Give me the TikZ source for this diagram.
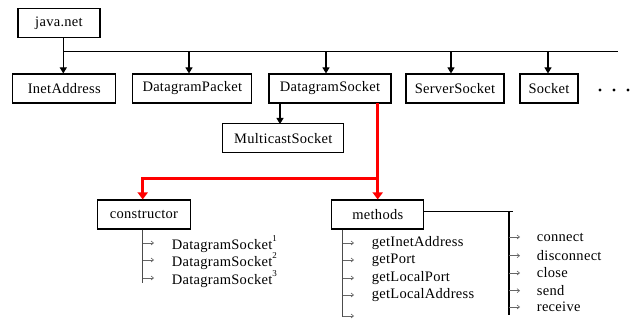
\documentclass[tikz,border=0pt]{standalone}
\usepackage{fontspec}
\setmainfont[LetterSpace=2]{Liberation Serif}
\usetikzlibrary{arrows.meta}
\newcommand{\supnum}[1]{\raisebox{1.3ex}{\fontsize{9}{9}\selectfont #1}}
\begin{document}
\begin{tikzpicture}[x=1pt,y=-1pt,
  font=\fontsize{14.5}{16}\selectfont,
  box/.style={draw, line width=1.1pt, inner sep=0pt, minimum height=29pt},
  conn/.style={line width=1.1pt},
  tip/.style={-{Triangle[length=6pt,width=7pt]}},
  redline/.style={draw=red, line width=2.6pt},
  redtip/.style={-{Triangle[length=7pt,width=10pt]}},
  gline/.style={draw=black!70, line width=1.5pt},
  iarr/.style={draw=black!60, line width=0.6pt, -{Straight Barb[length=2.5pt,width=4pt]}},
  item/.style={anchor=west, inner sep=0pt}
]
\useasboundingbox (0,0) rectangle (634,320);

% boxes
\node[box, minimum width=82pt]  (java)  at (59,23)      {java.net};
\node[box, minimum width=103pt] (inet)  at (64.3,88.5)  {InetAddress};
\node[box, minimum width=119pt] (dpack) at (192.3,88.5) {DatagramPacket};
\node[box, minimum width=122pt] (dsock) at (330,88.5)   {DatagramSocket};
\node[box, minimum width=98pt]  (ssock) at (455,88.5)   {ServerSocket};
\node[box, minimum width=58pt]  (sock)  at (549,88.5)   {Socket};
\node[box, minimum width=121pt] (msock) at (283.3,138.3){MulticastSocket};
\node[box, minimum width=93pt]  (cons)  at (144,214.5)  {constructor};
\node[box, minimum width=92pt]  (meth)  at (377.8,214.5){methods};

% dots
\fill (600,90) circle (1.7pt);
\fill (614,90) circle (1.7pt);
\fill (628,90) circle (1.7pt);

% bus
\coordinate (busL) at (63.3,51.7);
\coordinate (busR) at (618,51.7);
\draw[conn] ([xshift=4.3pt]java.south) -- (busL) -- (busR);
\draw[conn,tip] (busL) -- (busL |- inet.north);
\draw[conn,tip] ([xshift=-3.3pt]dpack.north |- busL) -- ([xshift=-3.3pt]dpack.north);
\draw[conn,tip] ([xshift=-4pt]dsock.north |- busL) -- ([xshift=-4pt]dsock.north);
\draw[conn,tip] ([xshift=-4pt]ssock.north |- busL) -- ([xshift=-4pt]ssock.north);
\draw[conn,tip] ([xshift=-1pt]sock.north |- busL) -- ([xshift=-1pt]sock.north);

% multicast
\coordinate (mtop) at (280,124);
\draw[conn,tip] (mtop |- dsock.south) -- (mtop);

% red connectors
\coordinate (rstart) at (377.7,103);
\coordinate (rjoin) at (377.7,178.3);
\draw[redline,redtip] (rstart) -- (rjoin) -| ([xshift=-1.3pt]cons.north);
\draw[redline,redtip] (rjoin) -- (rjoin |- meth.north);

% methods right branch
\coordinate (mr) at (513,211.7);
\coordinate (mrv) at (509,211.7);
\coordinate (mrb) at (509,315);
\draw[conn] (meth.east |- mr) -- (mr);
\draw[conn] (mrv) -- (mrb);

% gray list lines
\coordinate (cl) at (142.7,282.7);
\draw[gline] (cl |- cons.south) -- (cl);
\coordinate (ml) at (342.7,316.7);
\draw[gline] (ml |- meth.south) -- (ml);

% constructor items
\foreach \yy in {243,260,278} \draw[iarr] (143,\yy) -- (154,\yy);
\node[item] (c1) at (171.7,244) {DatagramSocket\supnum{1}};
\node[item] (c2) at (171.7,261) {DatagramSocket\supnum{2}};
\node[item] (c3) at (171.7,279) {DatagramSocket\supnum{3}};

% methods items left
\foreach \yy in {243,260,278,295,316} \draw[iarr] (343,\yy) -- (354,\yy);
\node[item] (m1) at (371.7,243) {getInetAddress};
\node[item] (m2) at (371.7,260) {getPort};
\node[item] (m3) at (371.7,278) {getLocalPort};
\node[item] (m4) at (371.7,295) {getLocalAddress};

% methods items right
\foreach \yy in {237,255.7,273,290.7,307} \draw[iarr] (509,\yy) -- (520,\yy);
\node[item] (r1) at (536.7,237)   {connect};
\node[item] (r2) at (536.7,255.7) {disconnect};
\node[item] (r3) at (536.7,273)   {close};
\node[item] (r4) at (536.7,290.7) {send};
\node[item] (r5) at (536.7,307)   {receive};
\end{tikzpicture}
\end{document}
